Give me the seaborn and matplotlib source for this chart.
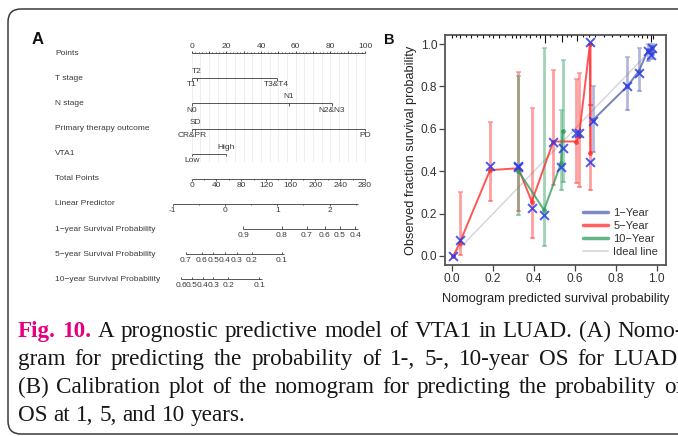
import matplotlib
matplotlib.use("Agg")
import matplotlib.pyplot as plt
import numpy as np
import pandas as pd
import seaborn as sns
from matplotlib.lines import Line2D
from matplotlib.patches import FancyBboxPatch

W, H, DPI = 678, 436, 100

# ---------------- panel A: nomogram ----------------
row_names = ["Points", "T stage", "N stage", "Primary therapy outcome", "VTA1",
             "Total Points", "Linear Predictor", "1\u2212year Survival Probability",
             "5\u2212year Survival Probability", "10\u2212year Survival Probability"]

points_labels = [0, 20, 40, 60, 80, 100]

t_stage_levels = ["T1", "T2", "T3&T4"]
t_stage_points = [0, 3, 49]
t_stage_above = [False, True, False]

n_stage_levels = ["N0", "N1", "N2&N3"]
n_stage_points = [0, 56, 81]
n_stage_above = [False, True, False]

therapy_levels = ["CR&PR", "SD", "PD"]
therapy_points = [0, 2, 100]
therapy_above = [False, True, False]

vta1_levels = ["Low", "High"]
vta1_points = [0, 20]
vta1_above = [False, True]

total_labels = [0, 40, 80, 120, 160, 200, 240, 280]
total_max = 280

lp_labels = [-1, 0, 1, 2]
lp_range = [-1, 2.55]
lp_zero_points = 19.2      # points position of LP = 0
lp_points_per_unit = 30.2

surv1_labels = ["0.9", "0.8", "0.7", "0.6", "0.5", "0.4"]
surv1_points = [29.7, 51.9, 66.4, 76.9, 85.6, 94.5]
surv5_labels = ["0.7", "0.6", "0.5", "0.4", "0.3", "0.2", "0.1"]
surv5_points = [-3.5, 5.8, 12.5, 19.2, 26.0, 34.6, 51.9]
surv10_labels = ["0.6", "0.5", "0.4", "0.3", "0.2", "0.1"]
surv10_points = [-6.0, 0.0, 6.3, 12.5, 21.1, 39.0]

# ---------------- panel B: calibration ----------------
yr1_x = [0.690, 0.855, 0.912, 0.958, 0.970, 0.978]
yr1_y = [0.643, 0.800, 0.871, 0.973, 0.960, 0.985]
yr1_lo = [0.49, 0.69, 0.78, 0.92, 0.93, 0.95]
yr1_hi = [0.80, 0.937, 0.98, 1.0, 0.99, 1.0]
yr1_corr = [0.635, 0.800, 0.865, 0.965, 0.950, 0.980]

yr5_x = [0.006, 0.036, 0.185, 0.324, 0.389, 0.494, 0.605, 0.620, 0.673, 0.676]
yr5_y = [0.000, 0.060, 0.405, 0.414, 0.256, 0.540, 0.540, 0.565, 1.000, 0.486]
yr5_lo = [0.0, 0.005, 0.26, 0.21, 0.083, 0.335, 0.346, 0.327, 0.71, 0.31]
yr5_hi = [0.0, 0.30, 0.63, 0.87, 0.70, 0.877, 0.836, 0.863, 1.0, 0.71]
yr5_corr = [0.000, 0.075, 0.425, 0.425, 0.225, 0.540, 0.580, 0.580, 1.010, 0.445]

yr10_x = [0.324, 0.449, 0.533, 0.540]
yr10_y = [0.400, 0.217, 0.440, 0.590]
yr10_lo = [0.195, 0.047, 0.31, 0.35]
yr10_hi = [0.85, 0.98, 0.69, 0.926]
yr10_corr = [0.420, 0.193, 0.420, 0.510]

ideal_x = [0, 1]

rug_x = [0.0, 0.02, 0.04, 0.07, 0.09, 0.12, 0.15, 0.18, 0.20, 0.23, 0.26, 0.29,
         0.31, 0.33, 0.36, 0.38, 0.41, 0.43, 0.454, 0.48, 0.51, 0.535, 0.56, 0.58,
         0.608, 0.64, 0.67, 0.70, 0.74, 0.78, 0.82, 0.86, 0.89, 0.91, 0.93, 0.95,
         0.97, 0.98]
rug_h = [0.012, 0.01, 0.012, 0.01, 0.012, 0.01, 0.012, 0.01, 0.012, 0.012, 0.01, 0.012,
         0.015, 0.012, 0.01, 0.012, 0.01, 0.012, 0.04, 0.01, 0.01, 0.035, 0.01, 0.01,
         0.028, 0.008, 0.01, 0.008, 0.008, 0.008, 0.008, 0.008, 0.01, 0.01, 0.012, 0.015,
         0.035, 0.02]

series_names = ["1\u2212Year", "5\u2212Year", "10\u2212Year"]
series_colors = ["#5462b0", "#ff2b2b", "#2f9c5c"]

caption_head = ["Fig.", "10."]
caption_lines = [
    "A prognostic predictive model of VTA1 in LUAD. (A) Nomo-",
    "gram for predicting the probability of 1-, 5-, 10-year OS for LUAD.",
    "(B) Calibration plot of the nomogram for predicting the probability of",
    "OS at 1, 5, and 10 years.",
]

sns.set_theme(style="white")
plt.rcParams["font.family"] = ["Liberation Sans", "DejaVu Sans"]

INK = "#3a3a3a"
FS_A = 6.0


def px_box(left, top, right, bottom):
    return [left / W, 1 - bottom / H, (right - left) / W, (bottom - top) / H]


fig = plt.figure(figsize=(W / DPI, H / DPI), dpi=DPI)

canvas = fig.add_axes([0, 0, 1, 1])
canvas.set_xlim(0, W)
canvas.set_ylim(H, 0)
canvas.axis("off")
canvas.add_patch(FancyBboxPatch((8, 9), 740, 425,
                                boxstyle="round,pad=0,rounding_size=13",
                                fill=False, ec="#3a3a3a", lw=1.1))

# ---- nomogram ----
axA = fig.add_axes(px_box(20, 28, 380, 300))
PT0, PT_PX = 191.7, 1.733
ROW0, ROW_PX = 53.3, 25.1
axA.set_xlim((20 - PT0) / PT_PX, (380 - PT0) / PT_PX)
axA.set_ylim((300 - ROW0) / ROW_PX, (28 - ROW0) / ROW_PX)
axA.axis("off")
TICK = 2.5 / ROW_PX


def hline(row, a, b):
    axA.plot([a, b], [row, row], color=INK, lw=0.6, solid_capstyle="butt")


def ticks(row, xs, length, up):
    d = -length if up else length
    axA.vlines(xs, row, row + d, color=INK, lw=0.6)


def labels(row, xs, texts, up):
    for x, s, u in zip(xs, texts, up):
        axA.annotate(str(s), (x, row), xytext=(0, 2.2 if u else -2.2),
                     textcoords="offset points", ha="center",
                     va="bottom" if u else "top", fontsize=FS_A, color=INK)


for i, name in enumerate(row_names):
    axA.text((55 - PT0) / PT_PX, i, name, ha="left", va="center",
             fontsize=FS_A, color=INK)

# light grid behind the predictor rows
axA.vlines(np.arange(0, 101, 5), 0, 4.35, color="#e8e8e8", lw=0.5, zorder=0)

# points axis
hline(0, 0, 100)
ticks(0, np.arange(0, 101, 10), TICK, True)
ticks(0, np.arange(0, 101, 2), TICK * 0.5, True)
labels(0, points_labels, points_labels, [True] * len(points_labels))

for row, pts, lev, up in [(1, t_stage_points, t_stage_levels, t_stage_above),
                          (2, n_stage_points, n_stage_levels, n_stage_above),
                          (3, therapy_points, therapy_levels, therapy_above),
                          (4, vta1_points, vta1_levels, vta1_above)]:
    hline(row, min(pts), max(pts))
    ticks(row, pts, TICK, False)
    labels(row, pts, lev, up)

# total points
tot_pos = [t / total_max * 100 for t in total_labels]
hline(5, 0, 100)
ticks(5, tot_pos, TICK, False)
ticks(5, [(t + 20) / total_max * 100 for t in total_labels[:-1]], TICK * 0.6, False)
labels(5, tot_pos, total_labels, [False] * len(total_labels))

# linear predictor
lp_pos = [lp_zero_points + lp_points_per_unit * v for v in lp_labels]
lp_lim = [lp_zero_points + lp_points_per_unit * v for v in lp_range]
hline(6, lp_lim[0], lp_lim[1])
ticks(6, lp_pos, TICK, False)
ticks(6, [p + lp_points_per_unit / 2 for p in lp_pos], TICK * 0.6, False)
labels(6, lp_pos, lp_labels, [False] * len(lp_labels))

for row, pos, lab in [(7, surv1_points, surv1_labels),
                      (8, surv5_points, surv5_labels),
                      (9, surv10_points, surv10_labels)]:
    hline(row, min(pos), max(pos) + 1.5)
    ticks(row, pos, TICK, True)
    labels(row, pos, lab, [False] * len(lab))

fig.text(32 / W, 1 - 40 / H, "A", fontsize=12, fontweight="bold", va="center",
         ha="left", color="#111")

# ---- calibration plot ----
axB = fig.add_axes(px_box(445, 35, 666, 265))
axB.set_xlim(-0.035, 1.045)
axB.set_ylim(-0.0425, 1.0425)

sns.lineplot(x=ideal_x, y=ideal_x, color="#d4d4d4", lw=1.0, ax=axB, zorder=1)

series = [(yr1_x, yr1_y, yr1_lo, yr1_hi, yr1_corr),
          (yr5_x, yr5_y, yr5_lo, yr5_hi, yr5_corr),
          (yr10_x, yr10_y, yr10_lo, yr10_hi, yr10_corr)]

cal = pd.concat([pd.DataFrame({"pred": s[0], "obs": s[1], "series": n})
                 for s, n in zip(series, series_names)])
palette = dict(zip(series_names, series_colors))

for (xs, ys, lo, hi, corr), col in zip(series, series_colors):
    axB.errorbar(xs, ys, yerr=[np.subtract(ys, lo), np.subtract(hi, ys)],
                 fmt="none", ecolor=col, elinewidth=2.0, capsize=1.8,
                 capthick=1.2, alpha=0.45, zorder=2)

sns.lineplot(data=cal, x="pred", y="obs", hue="series", palette=palette,
             estimator=None, sort=True, marker="o", markersize=3.5,
             markeredgewidth=0, lw=1.4, alpha=0.8, legend=False, ax=axB, zorder=3)

corr_df = pd.concat([pd.DataFrame({"pred": s[0], "corr": s[4]}) for s in series])
sns.scatterplot(data=corr_df, x="pred", y="corr", marker="x", color="#2a3de8",
                s=40, linewidth=1.4, alpha=0.85, ax=axB, zorder=4, clip_on=False)

axB.vlines(rug_x, [1.0425 - h for h in rug_h], 1.0425, color="#111", lw=0.8, zorder=5)

ticks_b = [0, 0.2, 0.4, 0.6, 0.8, 1.0]
axB.set_xticks(ticks_b)
axB.set_xticklabels([f"{v:.1f}" for v in ticks_b])
axB.set_yticks(ticks_b)
axB.set_yticklabels([f"{v:.1f}" for v in ticks_b])
axB.tick_params(direction="out", length=4, width=0.9, color="#444",
                labelsize=8.6, labelcolor="#333", pad=1.5,
                bottom=True, left=True)
for sp in axB.spines.values():
    sp.set_visible(True)
    sp.set_color("#555")
    sp.set_linewidth(1.3)
axB.set_xlabel("Nomogram predicted survival probability", fontsize=9.2,
               color="#222", labelpad=6)
axB.set_ylabel("Observed fraction survival probability", fontsize=9.2,
               color="#222", labelpad=3)

handles = [Line2D([], [], color=c, lw=2.5, alpha=0.75) for c in series_colors]
handles.append(Line2D([], [], color="#d4d4d4", lw=1.2))
axB.legend(handles, series_names + ["Ideal line"], loc="lower right",
           frameon=False, fontsize=8, handlelength=2.2, handletextpad=0.5,
           labelspacing=0.28, borderaxespad=0.3, labelcolor="#333")

fig.text(384 / W, 1 - 40 / H, "B", fontsize=10.5, fontweight="bold",
         va="center", ha="left", color="#111")

# ---- caption, justified word by word ----
CAP_FS = 16.7
renderer = fig.canvas.get_renderer()
x0, x1 = 18, 683
baselines = [337, 365, 393, 421]
for i, line in enumerate(caption_lines):
    words = line.split(" ")
    heads = [False] * len(words)
    if i == 0:
        words = caption_head + words
        heads = [True] * len(caption_head) + heads
    texts = [canvas.text(0, baselines[i], w, fontsize=CAP_FS,
                         family="Liberation Serif",
                         fontweight="bold" if h else "normal",
                         color="#e6007e" if h else "#161616",
                         va="baseline", ha="left")
             for w, h in zip(words, heads)]
    widths = [t.get_window_extent(renderer).width for t in texts]
    if i < len(caption_lines) - 1:
        gap = (x1 - x0 - sum(widths)) / (len(words) - 1)
    else:
        gap = CAP_FS * DPI / 72 * 0.25
    x = x0
    for t, w in zip(texts, widths):
        t.set_x(x)
        x += w + gap

fig.savefig("out.png", dpi=DPI)
